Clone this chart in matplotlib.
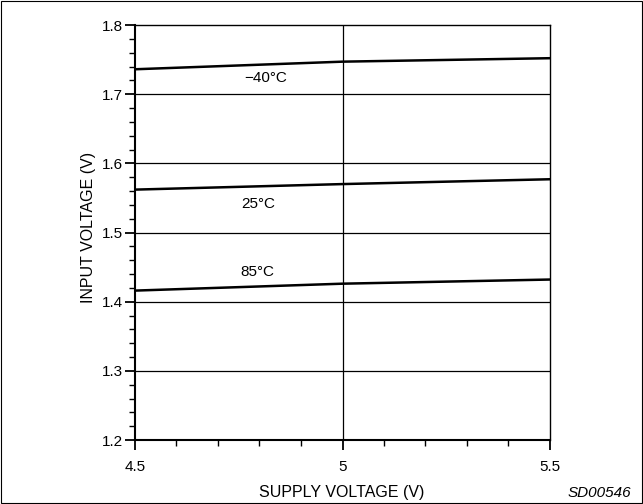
import matplotlib
matplotlib.use("Agg")
import matplotlib.pyplot as plt
from matplotlib.patches import Rectangle
import numpy as np

plt.rcParams['font.family'] = ['Liberation Sans', 'DejaVu Sans']

supply = [4.5, 5.0, 5.5]
v_m40 = [1.736, 1.747, 1.752]
v_25 = [1.562, 1.570, 1.577]
v_85 = [1.416, 1.426, 1.432]
labels = ["\u221240\u00b0C", "25\u00b0C", "85\u00b0C"]
label_pos = [(4.814, 1.723), (4.796, 1.541), (4.794, 1.4436)]

fig = plt.figure(figsize=(6.43, 5.04), dpi=100)
ax = fig.add_axes([135/643, 64/504, 415/643, 415/504])

ax.set_xlim(4.5, 5.5)
ax.set_ylim(1.2, 1.8)

for yv in [1.3, 1.4, 1.5, 1.6, 1.7]:
    ax.axhline(yv, color='black', lw=0.9, zorder=1)
ax.axvline(5.0, color='black', lw=0.9, zorder=1)

for ys in [v_m40, v_25, v_85]:
    ax.plot(supply, ys, color='black', lw=1.8, zorder=3)

for lab, (x, y) in zip(labels, label_pos):
    ax.text(x, y, lab, ha='center', va='center', fontsize=11)

ax.set_xticks([4.5, 5.0, 5.5])
ax.set_xticklabels(['4.5', '5', '5.5'])
ax.set_xticks(np.arange(4.6, 5.5, 0.1), minor=True)
ax.set_yticks([1.2, 1.3, 1.4, 1.5, 1.6, 1.7, 1.8])
ax.set_yticklabels(['1.2', '1.3', '1.4', '1.5', '1.6', '1.7', '1.8'])
ax.set_yticks(np.arange(1.22, 1.8, 0.02), minor=True)

ax.tick_params(axis='both', which='major', direction='out', length=7.5, width=1.3, labelsize=11, pad=1)
ax.tick_params(axis='both', which='minor', direction='out', length=4, width=1.0)
ax.tick_params(axis='x', which='major', pad=7)

for s in ['left', 'bottom']:
    ax.spines[s].set_linewidth(1.5)
for s in ['top', 'right']:
    ax.spines[s].set_linewidth(1.0)

fig.text(342/643, 1 - 492/504, 'SUPPLY VOLTAGE (V)', ha='center', va='center', fontsize=11.5)
fig.text(89/643, 1 - 227/504, 'INPUT VOLTAGE (V)', ha='center', va='center', fontsize=11.5, rotation=90)

fig.text(599/643, 1 - 493/504, 'SD00546', ha='center', va='center', fontsize=11, style='italic')

fig.patches.append(Rectangle((0.002, 0.002), 0.996, 0.996, transform=fig.transFigure,
                             fill=False, edgecolor='black', lw=0.8))

fig.savefig('out.png', dpi=100)
